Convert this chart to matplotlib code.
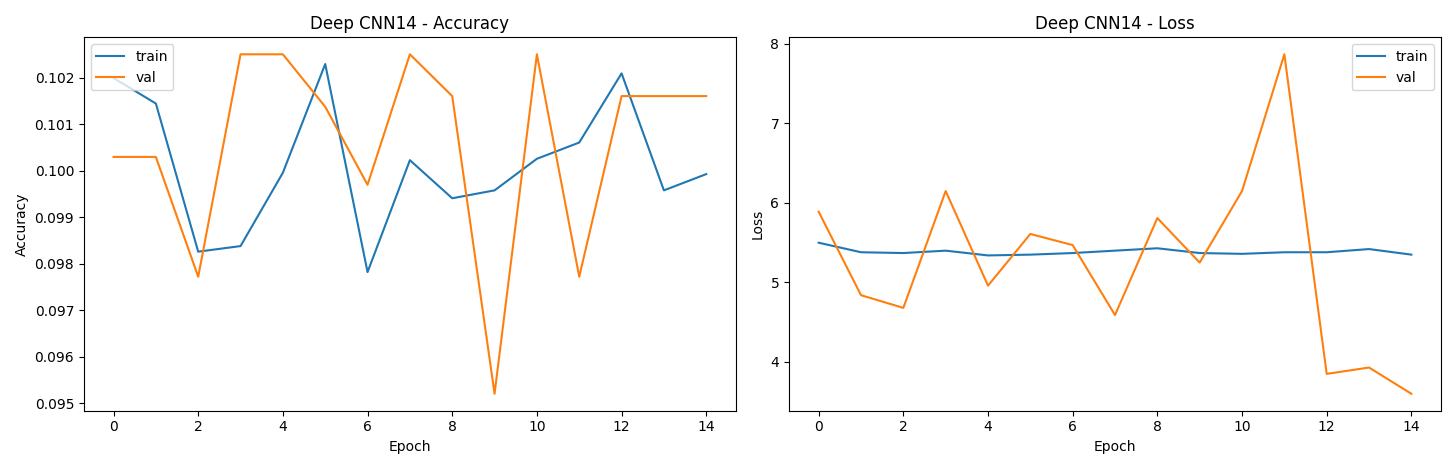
import matplotlib
matplotlib.use("Agg")
import matplotlib.pyplot as plt

epochs = list(range(15))
train_acc = [0.1020, 0.10145, 0.09826, 0.09838, 0.09996, 0.1023, 0.09782, 0.10023, 0.09941, 0.09958,
             0.10026, 0.10061, 0.10210, 0.09958, 0.09993]
val_acc = [0.10030, 0.10030, 0.09772, 0.10251, 0.10251, 0.10138, 0.09970, 0.10251, 0.10161, 0.09520,
           0.10251, 0.09772, 0.10161, 0.10161, 0.10161]
train_loss = [5.50, 5.38, 5.37, 5.40, 5.34, 5.35, 5.37, 5.40, 5.43, 5.37, 5.36, 5.38, 5.38, 5.42, 5.35]
val_loss = [5.89, 4.84, 4.68, 6.15, 4.96, 5.61, 5.47, 4.59, 5.81, 5.25, 6.15, 7.87, 3.85, 3.93, 3.60]

fig, (ax1, ax2) = plt.subplots(1, 2, figsize=(14.56, 4.69), dpi=100)

ax1.plot(epochs, train_acc, label="train")
ax1.plot(epochs, val_acc, label="val")
ax1.set_title("Deep CNN14 - Accuracy")
ax1.set_xlabel("Epoch")
ax1.set_ylabel("Accuracy")
ax1.legend(loc="upper left")

ax2.plot(epochs, train_loss, label="train")
ax2.plot(epochs, val_loss, label="val")
ax2.set_title("Deep CNN14 - Loss")
ax2.set_xlabel("Epoch")
ax2.set_ylabel("Loss")
ax2.legend(loc="upper right")

plt.tight_layout()
plt.savefig("out.png")
